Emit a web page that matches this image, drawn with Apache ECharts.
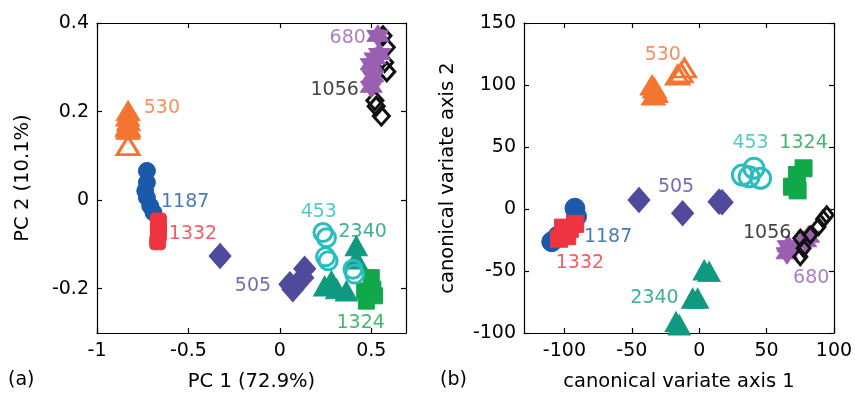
<!DOCTYPE html>
<html>
<head>
<meta charset="utf-8">
<script src="https://cdn.jsdelivr.net/npm/echarts@6/dist/echarts.min.js"></script>
<style>
  html, body { margin: 0; padding: 0; background: #fff; }
  #chart { width: 855px; height: 395px; }
</style>
</head>
<body>
<div id="chart"></div>
<script>
// (a) PCA scores
var pca530Filled = [[-0.83, 0.202], [-0.832, 0.19], [-0.828, 0.179], [-0.834, 0.168], [-0.83, 0.16]];
var pca530Open = [[-0.83, 0.165], [-0.83, 0.123]];
var pca1187 = [[-0.727, 0.066], [-0.727, 0.040], [-0.736, 0.021], [-0.727, 0.006], [-0.709, -0.013], [-0.691, -0.028]];
var pca1332 = [[-0.664, -0.047], [-0.664, -0.062], [-0.664, -0.077], [-0.668, -0.094]];
var pca505 = [[-0.327, -0.126], [0.055, -0.19], [0.136, -0.155], [0.071, -0.201], [0.125, -0.175]];
var pca453 = [[0.236, -0.073], [0.255, -0.085], [0.25, -0.128], [0.264, -0.137], [0.40, -0.156], [0.409, -0.167]];
var pca2340 = [[0.418, -0.103], [0.418, -0.133], [0.282, -0.182], [0.31, -0.2], [0.245, -0.194], [0.364, -0.205]];
var pca1324 = [[0.5, -0.175], [0.509, -0.201], [0.518, -0.216], [0.473, -0.228], [0.464, -0.205]];
var pca680 = [[0.536, 0.371], [0.545, 0.33], [0.5, 0.307], [0.509, 0.28], [0.5, 0.256], [0.52, 0.32]];
var pca1056 = [[0.564, 0.371], [0.582, 0.345], [0.573, 0.311], [0.585, 0.29], [0.52, 0.225], [0.527, 0.212], [0.555, 0.19]];

// (b) canonical variates
var cva530Filled = [[-33.2, 97.6], [-35, 100], [-32, 94], [-34, 92]];
var cva530Open = [[-11, 113.7], [-13.5, 109.7], [-16, 108]];
var cva1187 = [[-92.2, 0.6], [-91, -6], [-109.4, -26.4], [-105, -22]];
var cva1332 = [[-104, -24], [-100, -20], [-96, -16], [-92, -12], [-98, -22], [-101, -15]];
var cva505 = [[-44.7, 7.3], [-12.3, -3.5], [14.7, 5.9], [17, 5.5]];
var cva453 = [[32, 27.4], [40.6, 32.8], [45.5, 24.8], [37, 26]];
var cva1324 = [[77.4, 32.8], [72.5, 27.4], [68.8, 18], [73, 15]];
var cva2340 = [[3.7, -49.2], [7.4, -50.5], [-4.9, -72], [-1.2, -72], [-17.2, -90.9], [-14.7, -93.5]];
var cva1056 = [[94.6, -4.8], [92, -8], [88.5, -14.3], [82.4, -21], [75, -23.6], [77.4, -31.7], [75, -38.5]];
var cva680 = [[65.1, -35.7], [66, -30], [81.1, -22.3], [79, -26]];

// group names and where their text sits
var groupNames = ['530', '1187', '1332', '505', '453', '2340', '1324', '680', '1056'];
var pcaLabelAt = [[-0.645, 0.209], [-0.518, -0.005], [-0.475, -0.076], [-0.147, -0.194], [0.213, -0.028], [0.453, -0.073], [0.442, -0.277], [0.371, 0.365], [0.30, 0.249]];
var cvaLabelAt = [[-27, 124.2], [-67.6, -22.3], [-88.5, -43.8], [-17.2, 18], [38.1, 53], [-33.2, -72], [77.4, 53], [83.1, -55.9], [50.4, -19.6]];

// ticks
var pcaXTicks = [-1, -0.5, 0, 0.5];
var pcaYTicks = [-0.2, 0, 0.2, 0.4];
var cvaXTicks = [-100, -50, 0, 50, 100];
var cvaYTicks = [-100, -50, 0, 50, 100, 150];

var colors = {
  '530': '#f47531', '1187': '#1b5aa8', '1332': '#ee3441', '505': '#504a9c',
  '453': '#2bbdbd', '2340': '#0f9a80', '1324': '#10a84a', '680': '#9a5fb0', '1056': '#111111'
};
var FONT = 'DejaVu Sans';
var star = 'path://M0,-10 L2.9,-5 L8.66,-5 L5.8,0 L8.66,5 L2.9,5 L0,10 L-2.9,5 L-8.66,5 L-5.8,0 L-8.66,-5 L-2.9,-5 Z';

function pts(name, data, symbol, size, hollow, xi, yi) {
  var c = colors[name];
  return {
    type: 'scatter', xAxisIndex: xi, yAxisIndex: yi, data: data,
    symbol: symbol, symbolSize: size, silent: true,
    itemStyle: hollow
      ? { color: 'rgba(255,255,255,0)', borderColor: c, borderWidth: 3, opacity: 1 }
      : { color: c, borderColor: c, borderWidth: 1, opacity: 1 }
  };
}

function labels(at, xi, yi) {
  return {
    type: 'scatter', xAxisIndex: xi, yAxisIndex: yi, symbolSize: 0, silent: true, z: 10,
    data: at.map(function (p, i) {
      return {
        value: p, name: groupNames[i],
        label: { show: true, position: 'inside', formatter: '{b}', color: colors[groupNames[i]], fontSize: 19, fontFamily: FONT }
      };
    })
  };
}

function xAx(gi, pos, min, max, ticks, showLabels, name) {
  return {
    type: 'value', gridIndex: gi, position: pos, min: min, max: max,
    name: name || '', nameLocation: 'middle', nameGap: 39,
    nameTextStyle: { fontSize: 19.5, color: '#000', fontFamily: FONT },
    axisLine: { show: true, onZero: false, lineStyle: { color: '#000', width: 1.2 } },
    axisTick: { show: true, inside: true, length: 5, customValues: ticks, lineStyle: { color: '#000', width: 1.2 } },
    axisLabel: { show: showLabels, customValues: ticks, margin: 9, fontSize: 19, color: '#000', fontFamily: FONT },
    splitLine: { show: false }
  };
}

function yAx(gi, pos, min, max, ticks, showLabels, name, gap) {
  return {
    type: 'value', gridIndex: gi, position: pos, min: min, max: max,
    name: name || '', nameLocation: 'middle', nameGap: gap || 0,
    nameTextStyle: { fontSize: 19.5, color: '#000', fontFamily: FONT },
    axisLine: { show: true, onZero: false, lineStyle: { color: '#000', width: 1.2 } },
    axisTick: { show: true, inside: true, length: 5, customValues: ticks, lineStyle: { color: '#000', width: 1.2 } },
    axisLabel: { show: showLabels, customValues: ticks, margin: 8, fontSize: 19, color: '#000', fontFamily: FONT },
    splitLine: { show: false }
  };
}

var myChart = echarts.init(document.getElementById('chart'));
var option = {
  animation: false,
  grid: [
    { left: 97, top: 23, width: 309, height: 310, outerBoundsMode: 'none' },
    { left: 524, top: 23, width: 310, height: 310, outerBoundsMode: 'none' }
  ],
  xAxis: [
    xAx(0, 'bottom', -1, 0.69, pcaXTicks, true, 'PC 1 (72.9%)'),
    xAx(0, 'top', -1, 0.69, pcaXTicks, false),
    xAx(1, 'bottom', -130, 100, cvaXTicks, true, 'canonical variate axis 1'),
    xAx(1, 'top', -130, 100, cvaXTicks, false)
  ],
  yAxis: [
    yAx(0, 'left', -0.3, 0.4, pcaYTicks, true, 'PC 2 (10.1%)', 64),
    yAx(0, 'right', -0.3, 0.4, pcaYTicks, false),
    yAx(1, 'left', -100, 150, cvaYTicks, true, 'canonical variate axis 2', 66),
    yAx(1, 'right', -100, 150, cvaYTicks, false)
  ],
  graphic: [
    { type: 'text', left: 8, top: 371, style: { text: '(a)', fontSize: 19, fill: '#000', fontFamily: FONT } },
    { type: 'text', left: 440, top: 371, style: { text: '(b)', fontSize: 19, fill: '#000', fontFamily: FONT } }
  ],
  series: [
    // (a)
    pts('530', pca530Filled, 'triangle', [24, 20], false, 0, 0),
    pts('530', pca530Open, 'triangle', [22, 18], true, 0, 0),
    pts('1187', pca1187, 'circle', 17, false, 0, 0),
    pts('1332', pca1332, 'roundRect', 16, false, 0, 0),
    pts('505', pca505, 'diamond', [22, 25], false, 0, 0),
    pts('2340', pca2340, 'triangle', [22, 20], false, 0, 0),
    pts('1324', pca1324, 'rect', 16, false, 0, 0),
    pts('453', pca453, 'circle', 18, true, 0, 0),
    pts('1056', pca1056, 'diamond', [16, 18], true, 0, 0),
    pts('680', pca680, star, 22, false, 0, 0),
    labels(pcaLabelAt, 0, 0),
    // (b)
    pts('530', cva530Filled, 'triangle', [24, 20], false, 2, 2),
    pts('530', cva530Open, 'triangle', [22, 18], true, 2, 2),
    pts('1187', cva1187, 'circle', 20, false, 2, 2),
    pts('1332', cva1332, 'rect', 17, false, 2, 2),
    pts('505', cva505, 'diamond', [22, 25], false, 2, 2),
    pts('453', cva453, 'circle', 20, true, 2, 2),
    pts('1324', cva1324, 'rect', 17, false, 2, 2),
    pts('2340', cva2340, 'triangle', [22, 20], false, 2, 2),
    pts('680', cva680, star, 22, false, 2, 2),
    pts('1056', cva1056, 'diamond', [13, 16], true, 2, 2),
    labels(cvaLabelAt, 2, 2)
  ]
};
myChart.setOption(option);
</script>
</body>
</html>
